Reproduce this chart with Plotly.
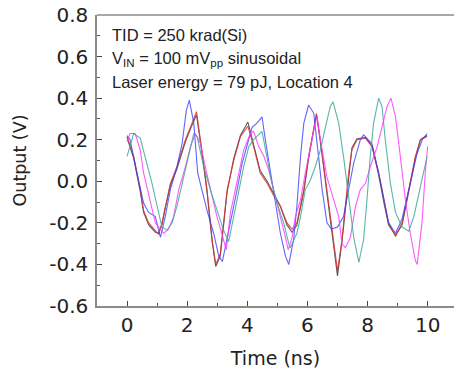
import plotly.graph_objects as go

# ---- data ----
t_red = [0, 0.22, 0.44, 0.55, 0.72, 0.94, 1.05, 1.16, 1.27, 1.44, 1.66, 1.94, 2.16, 2.31, 2.44, 2.66, 2.83, 2.95,
         3.1, 3.33, 3.55, 3.77, 4.02, 4.21, 4.43, 4.66, 4.88, 5.1, 5.32, 5.49, 5.65, 5.88, 6.04, 6.21, 6.30, 6.43,
         6.65, 6.87, 7.0, 7.15, 7.26, 7.37, 7.48, 7.65, 7.93, 8.15, 8.37, 8.54, 8.70, 8.93, 9.15, 9.37, 9.59, 9.76, 9.98]
v_red = [0.215, 0.12, -0.04, -0.14, -0.20, -0.24, -0.255, -0.20, -0.12, -0.01, 0.07, 0.20, 0.28, 0.335, 0.20, -0.04,
         -0.28, -0.40, -0.35, -0.04, 0.10, 0.215, 0.265, 0.167, 0.04, -0.01, -0.07, -0.12, -0.20, -0.23, -0.20, -0.04,
         0.12, 0.26, 0.327, 0.20, -0.04, -0.28, -0.43, -0.28, -0.12, 0.04, 0.15, 0.20, 0.207, 0.167, 0.04, -0.09,
         -0.20, -0.266, -0.20, -0.04, 0.12, 0.20, 0.215]

t_black = t_red
v_black = [0.21, 0.11, -0.05, -0.15, -0.21, -0.245, -0.25, -0.21, -0.13, -0.02, 0.06, 0.19, 0.27, 0.32, 0.19, -0.05,
           -0.29, -0.41, -0.36, -0.05, 0.11, 0.22, 0.285, 0.18, 0.05, 0.0, -0.06, -0.12, -0.21, -0.245, -0.21, -0.05,
           0.11, 0.25, 0.32, 0.19, -0.05, -0.29, -0.455, -0.29, -0.13, 0.03, 0.16, 0.205, 0.21, 0.17, 0.03, -0.10,
           -0.21, -0.26, -0.21, -0.05, 0.11, 0.20, 0.22]

t_blue = [0, 0.1, 0.33, 0.55, 0.72, 0.94, 1.11, 1.27, 1.44, 1.66, 1.83, 1.97, 2.07, 2.22, 2.35, 2.49, 2.66, 2.88,
          3.05, 3.17, 3.44, 3.66, 3.83, 3.99, 4.16, 4.32, 4.49, 4.6, 4.77, 4.93, 5.1, 5.27, 5.38, 5.54, 5.65, 5.77,
          5.88, 6.04, 6.21, 6.37, 6.49, 6.65, 6.8, 7.0, 7.2, 7.37, 7.54, 7.76, 7.87, 8.15, 8.37, 8.70, 8.93, 9.15,
          9.42, 9.65, 9.82, 9.98]
v_blue = [0.22, 0.2, 0.04, -0.105, -0.15, -0.17, -0.27, -0.17, -0.04, 0.07, 0.18, 0.34, 0.39, 0.28, 0.04, -0.04,
          -0.14, -0.25, -0.36, -0.386, -0.2, -0.04, 0.087, 0.167, 0.26, 0.28, 0.31, 0.2, 0.04, -0.09, -0.25, -0.36,
          -0.40, -0.28, -0.12, 0.12, 0.28, 0.367, 0.327, 0.12, -0.04, -0.2, -0.23, -0.22, -0.17, -0.04, 0.087, 0.2,
          0.223, 0.18, 0.04, -0.2, -0.25, -0.18, -0.01, 0.135, 0.2, 0.23]

t_magenta = [0, 0.1, 0.27, 0.44, 0.55, 0.72, 0.94, 1.22, 1.38, 1.55, 1.72, 1.94, 2.11, 2.27, 2.44, 2.6, 2.77, 2.99,
             3.15, 3.3, 3.44, 3.66, 3.88, 4.1, 4.21, 4.38, 4.55, 4.71, 4.88, 5.1, 5.27, 5.36, 5.49, 5.6, 5.77, 5.93,
             6.1, 6.26, 6.32, 6.43, 6.65, 6.87, 7.04, 7.15, 7.26, 7.43, 7.6, 7.76, 7.93, 8.09, 8.32, 8.48, 8.65, 8.78,
             8.93, 9.09, 9.26, 9.42, 9.59, 9.65, 9.81, 9.92, 10.0]
v_magenta = [0.19, 0.23, 0.23, 0.15, 0.04, -0.07, -0.2, -0.25, -0.23, -0.17, -0.04, 0.07, 0.167, 0.23, 0.183, 0.07,
             -0.04, -0.17, -0.25, -0.33, -0.15, 0.006, 0.15, 0.23, 0.24, 0.167, 0.12, 0.055, -0.04, -0.17, -0.27,
             -0.33, -0.27, -0.17, -0.09, 0.04, 0.167, 0.28, 0.31, 0.2, 0.02, -0.09, -0.17, -0.30, -0.32, -0.27, -0.12,
             -0.04, -0.01, 0.07, 0.167, 0.26, 0.36, 0.40, 0.31, 0.12, -0.09, -0.25, -0.38, -0.40, -0.2, 0.04, 0.167]

t_teal = [0, 0.11, 0.22, 0.44, 0.66, 0.83, 1.0, 1.16, 1.33, 1.5, 1.66, 1.83, 2.05, 2.22, 2.33, 2.55, 2.77, 2.99,
          3.21, 3.38, 3.55, 3.71, 3.88, 4.05, 4.21, 4.49, 4.66, 4.82, 4.99, 5.21, 5.38, 5.43, 5.65, 5.77, 5.93, 6.1,
          6.26, 6.43, 6.6, 6.76, 6.85, 7.04, 7.2, 7.37, 7.54, 7.71, 7.87, 7.98, 8.09, 8.2, 8.37, 8.48, 8.59, 8.76,
          8.93, 9.15, 9.37, 9.54, 9.7, 9.87, 9.98]
v_teal = [0.12, 0.18, 0.23, 0.207, 0.087, -0.01, -0.12, -0.22, -0.235, -0.2, -0.12, -0.01, 0.12, 0.23, 0.215, 0.07,
          -0.04, -0.14, -0.235, -0.29, -0.17, -0.04, 0.07, 0.167, 0.2, 0.24, 0.12, -0.01, -0.105, -0.2, -0.30, -0.32,
          -0.25, -0.17, -0.04, 0.006, 0.07, 0.15, 0.26, 0.36, 0.383, 0.28, 0.12, -0.09, -0.27, -0.39, -0.28, -0.09,
          0.12, 0.28, 0.40, 0.36, 0.2, -0.01, -0.15, -0.22, -0.24, -0.17, -0.07, 0.04, 0.12]

x_ticks = [0, 2, 4, 6, 8, 10]
x_labels = ["0", "2", "4", "6", "8", "10"]
y_ticks = [-0.6, -0.4, -0.2, 0.0, 0.2, 0.4, 0.6, 0.8]
y_labels = ["-0.6", "-0.4", "-0.2", "0.0", "0.2", "0.4", "0.6", "0.8"]
notes = ["TID = 250 krad(Si)",
         "V<sub>IN</sub> = 100 mV<sub>pp</sub> sinusoidal",
         "Laser energy = 79 pJ, Location 4"]

series = [
    (t_black, v_black, "rgba(60,60,60,0.85)"),
    (t_red, v_red, "rgba(220,50,50,0.85)"),
    (t_blue, v_blue, "rgba(60,60,255,0.8)"),
    (t_magenta, v_magenta, "rgba(255,60,255,0.85)"),
    (t_teal, v_teal, "rgba(60,170,150,0.85)"),
]

fig = go.Figure()
for t, v, c in series:
    fig.add_trace(go.Scatter(x=t, y=v, mode="lines", line=dict(color=c, width=1.1), showlegend=False,
                             hoverinfo="skip"))

TICKFONT = "DejaVu Sans, Verdana, sans-serif"
FONT = "Liberation Sans, Arial, sans-serif"
axis_common = dict(
    showgrid=False, zeroline=False, showline=True, linecolor="#8a8a8a", linewidth=1.5,
    ticks="inside", ticklen=5, tickwidth=1.2, tickcolor="#444", automargin=False,
    tickfont=dict(family=TICKFONT, size=20, color="#222"),
)
fig.update_xaxes(range=[-1, 10.876], tickvals=x_ticks, ticktext=x_labels, mirror=False,
                 minor=dict(dtick=1, tick0=1, ticks="inside", ticklen=3, tickcolor="#555"),
                 title=dict(text="Time (ns)", font=dict(family=TICKFONT, size=19, color="#222"), standoff=16),
                 **axis_common)
fig.update_yaxes(range=[-0.6, 0.8], tickvals=y_ticks, ticktext=y_labels, ticklabelstandoff=3,
                 minor=dict(dtick=0.1, tick0=0.1, ticks="inside", ticklen=3, tickcolor="#555"),
                 title=dict(text="Output (V)", font=dict(family=TICKFONT, size=17.5, color="#222"), standoff=18),
                 **axis_common)

# top frame line
fig.add_shape(type="line", xref="paper", yref="paper", x0=0, x1=1, y0=1, y1=1,
              line=dict(color="#8a8a8a", width=1.5))

ys = [0.93, 0.849, 0.77]
for txt, yy in zip(notes, ys):
    fig.add_annotation(text=txt, xref="paper", yref="paper", x=0.036, y=yy, xanchor="left", yanchor="middle",
                       showarrow=False, font=dict(family=FONT, size=16.5, color="#222"))

fig.update_layout(width=454, height=375, margin=dict(l=97, r=0, t=15, b=69),
                  plot_bgcolor="white", paper_bgcolor="white")
fig.write_html("out.html", config={"displayModeBar": False},
               post_script="document.body.style.margin='0';document.body.style.overflow='hidden';")
